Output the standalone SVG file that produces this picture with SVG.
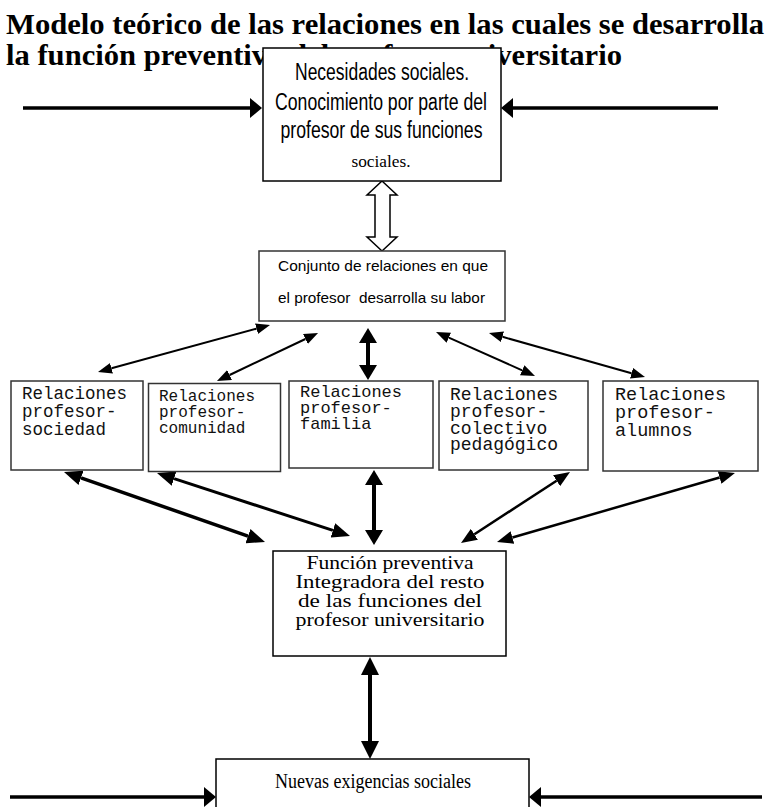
<svg xmlns="http://www.w3.org/2000/svg" width="770" height="807" viewBox="0 0 770 807">
<style>
.box{fill:#fff;stroke:#000;stroke-width:1.5}
.gbox{fill:#fff;stroke:#333;stroke-width:1.5}
.title{font-family:"Liberation Serif","Times New Roman",serif;font-weight:bold;font-size:30px;fill:#000}
.sans{font-family:"Liberation Sans",Arial,sans-serif;fill:#000}
.serif{font-family:"Liberation Serif","Times New Roman",serif;fill:#000}
.mono{font-family:"Liberation Mono","Courier New",monospace;fill:#111}
.c{text-anchor:middle}
.ln{fill:none;stroke:#000}
</style>
<defs>
<marker id="m-thin" markerUnits="userSpaceOnUse" markerWidth="14" markerHeight="11" refX="0" refY="5.5" orient="auto-start-reverse"><path d="M0,0 L14,5.5 L0,11 z" fill="#000"/></marker>
<marker id="m-thick" markerUnits="userSpaceOnUse" markerWidth="18" markerHeight="15" refX="0" refY="7.5" orient="auto-start-reverse"><path d="M0,0 L18,7.5 L0,15 z" fill="#000"/></marker>
<marker id="m-mid" markerUnits="userSpaceOnUse" markerWidth="16" markerHeight="13" refX="0" refY="6.5" orient="auto-start-reverse"><path d="M0,0 L16,6.5 L0,13 z" fill="#000"/></marker>
<marker id="m-vert" markerUnits="userSpaceOnUse" markerWidth="15" markerHeight="18" refX="0" refY="9" orient="auto-start-reverse"><path d="M0,0 L15,9 L0,18 z" fill="#000"/></marker>
<marker id="m-vbig" markerUnits="userSpaceOnUse" markerWidth="18" markerHeight="18" refX="0" refY="9" orient="auto-start-reverse"><path d="M0,0 L18,9 L0,18 z" fill="#000"/></marker>
<marker id="m-horiz" markerUnits="userSpaceOnUse" markerWidth="12" markerHeight="20" refX="0" refY="10" orient="auto"><path d="M0,0 L12,10 L0,20 z" fill="#000"/></marker>
</defs>

<g id="title">
<text class="title" x="6" y="34" textLength="758" lengthAdjust="spacingAndGlyphs">Modelo teórico de las relaciones en las cuales se desarrolla</text>
<text class="title" x="6" y="65" textLength="616" lengthAdjust="spacingAndGlyphs">la función preventiva del profesor universitario</text>
</g>

<g id="connectors">
<line class="ln" x1="23" y1="108" x2="250" y2="108" stroke-width="3.5" marker-end="url(#m-horiz)"/>
<line class="ln" x1="718" y1="108" x2="513" y2="108" stroke-width="3.5" marker-end="url(#m-horiz)"/>
<polygon points="382,181 397,195 390,195 390,237 397,237 382,251 367,237 375,237 375,195 367,195" fill="#fff" stroke="#000" stroke-width="1.5"/>
<line class="ln" x1="256.5" y1="328.7" x2="111.5" y2="368.3" stroke-width="2" marker-start="url(#m-thin)" marker-end="url(#m-thin)"/>
<line class="ln" x1="305.4" y1="339" x2="229.6" y2="375" stroke-width="2" marker-start="url(#m-thin)" marker-end="url(#m-thin)"/>
<line class="ln" x1="368" y1="343" x2="368" y2="365" stroke-width="4" marker-start="url(#m-vert)" marker-end="url(#m-vert)"/>
<line class="ln" x1="448.8" y1="337.7" x2="522.2" y2="370.3" stroke-width="2" marker-start="url(#m-thin)" marker-end="url(#m-thin)"/>
<line class="ln" x1="502.5" y1="336.8" x2="631.5" y2="373.2" stroke-width="2" marker-start="url(#m-thin)" marker-end="url(#m-thin)"/>
<line class="ln" x1="81" y1="477.9" x2="248" y2="536.1" stroke-width="3.5" marker-start="url(#m-thick)" marker-end="url(#m-thick)"/>
<line class="ln" x1="174.1" y1="478.6" x2="332.9" y2="530.4" stroke-width="3" marker-start="url(#m-thick)" marker-end="url(#m-thick)"/>
<line class="ln" x1="374" y1="485" x2="374" y2="530" stroke-width="4" marker-start="url(#m-vert)" marker-end="url(#m-vert)"/>
<line class="ln" x1="556.6" y1="480.7" x2="474.4" y2="534.3" stroke-width="2.5" marker-start="url(#m-mid)" marker-end="url(#m-mid)"/>
<line class="ln" x1="719.6" y1="477.5" x2="512.4" y2="537.5" stroke-width="2.5" marker-start="url(#m-mid)" marker-end="url(#m-mid)"/>
<line class="ln" x1="370" y1="675" x2="370" y2="741" stroke-width="4" marker-start="url(#m-vbig)" marker-end="url(#m-vbig)"/>
<line class="ln" x1="10" y1="797" x2="204" y2="797" stroke-width="3.5" marker-end="url(#m-horiz)"/>
<line class="ln" x1="762" y1="797" x2="541" y2="797" stroke-width="3.5" marker-end="url(#m-horiz)"/>
</g>

<g id="necesidades">
<rect class="box" x="263" y="48" width="238" height="133"/>
<text class="sans c" x="382" y="80" font-size="23" textLength="174" lengthAdjust="spacingAndGlyphs">Necesidades sociales.</text>
<text class="sans c" x="381" y="110" font-size="23" textLength="212" lengthAdjust="spacingAndGlyphs">Conocimiento por parte del</text>
<text class="sans c" x="381.5" y="138" font-size="23" textLength="202" lengthAdjust="spacingAndGlyphs">profesor de sus funciones</text>
<text class="serif c" x="381" y="167" font-size="17" textLength="59" lengthAdjust="spacingAndGlyphs">sociales.</text>
</g>

<g id="conjunto">
<rect class="gbox" x="259" y="251" width="246" height="70"/>
<text class="sans c" x="383" y="271" font-size="15" textLength="210" lengthAdjust="spacingAndGlyphs">Conjunto de relaciones en que</text>
<text class="sans c" x="381.5" y="303" font-size="15" textLength="207" lengthAdjust="spacingAndGlyphs" xml:space="preserve">el profesor  desarrolla su labor</text>
</g>

<g id="rel-sociedad">
<rect class="gbox" x="11" y="381" width="132" height="89"/>
<text class="mono" x="22" y="399" font-size="17.5">Relaciones</text>
<text class="mono" x="22" y="417" font-size="17.5">profesor-</text>
<text class="mono" x="22" y="435" font-size="17.5">sociedad</text>
</g>

<g id="rel-comunidad">
<rect class="gbox" x="148.5" y="383.5" width="132" height="88"/>
<text class="mono" x="159" y="401" font-size="16">Relaciones</text>
<text class="mono" x="159" y="417" font-size="16">profesor-</text>
<text class="mono" x="159" y="433" font-size="16">comunidad</text>
</g>

<g id="rel-familia">
<rect class="gbox" x="289" y="381" width="144" height="87"/>
<text class="mono" x="300" y="397" font-size="17">Relaciones</text>
<text class="mono" x="300" y="413" font-size="17">profesor-</text>
<text class="mono" x="300" y="429" font-size="17">familia</text>
</g>

<g id="rel-colectivo">
<rect class="gbox" x="439" y="381" width="149" height="89"/>
<text class="mono" x="450" y="400" font-size="18">Relaciones</text>
<text class="mono" x="450" y="417" font-size="18">profesor-</text>
<text class="mono" x="450" y="434" font-size="18">colectivo</text>
<text class="mono" x="450" y="450" font-size="18">pedagógico</text>
</g>

<g id="rel-alumnos">
<rect class="gbox" x="603" y="381" width="155" height="90"/>
<text class="mono" x="615" y="400" font-size="18.5">Relaciones</text>
<text class="mono" x="615" y="418" font-size="18.5">profesor-</text>
<text class="mono" x="615" y="436" font-size="18.5">alumnos</text>
</g>

<g id="funcion">
<rect class="box" x="273" y="551" width="233" height="105"/>
<text class="serif c" x="390" y="569" font-size="19" textLength="167" lengthAdjust="spacingAndGlyphs">Función preventiva</text>
<text class="serif c" x="390" y="588" font-size="19" textLength="189" lengthAdjust="spacingAndGlyphs">Integradora del resto</text>
<text class="serif c" x="390" y="607" font-size="19" textLength="184" lengthAdjust="spacingAndGlyphs">de las funciones del</text>
<text class="serif c" x="390" y="626" font-size="19" textLength="189" lengthAdjust="spacingAndGlyphs">profesor universitario</text>
</g>

<g id="nuevas">
<rect class="box" x="216" y="759" width="313" height="60"/>
<text class="serif c" x="373" y="788" font-size="20" textLength="196" lengthAdjust="spacingAndGlyphs">Nuevas exigencias sociales</text>
</g>
</svg>
